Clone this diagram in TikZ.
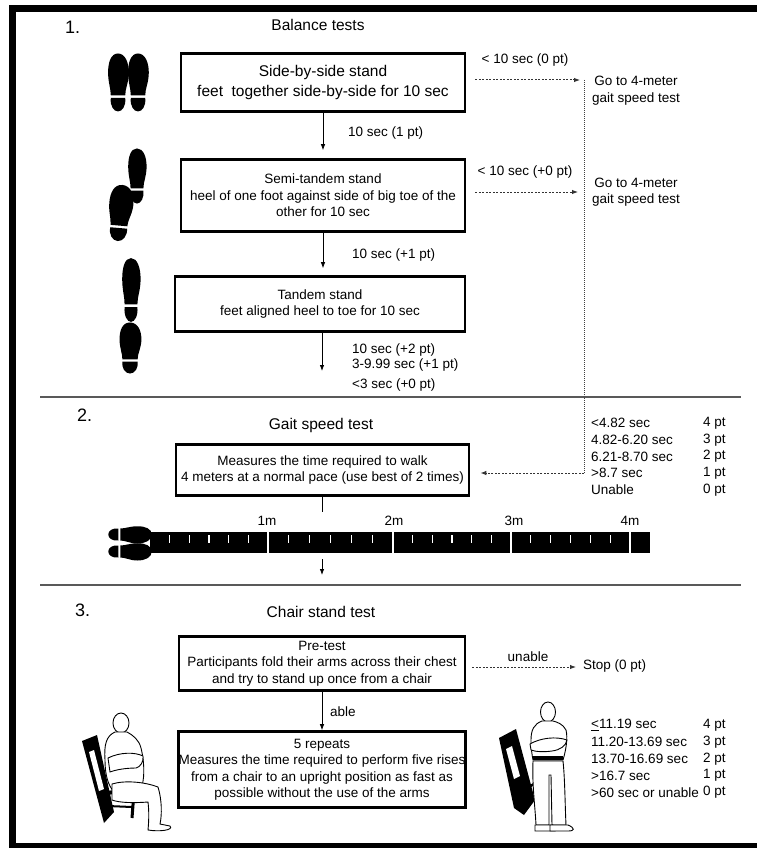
\documentclass[tikz,border=0pt]{standalone}
\usepackage{fontspec}
\setmainfont{Liberation Sans}
\usepackage{tikz}
\usetikzlibrary{arrows.meta}

\tikzset{
  sole/.pic={
    \fill (0,-29) .. controls (8,-29) and (12,-20) .. (12,-10) .. controls (12,0) and (8,6) .. (8,13) -- (-8,13) .. controls (-8,6) and (-11,0) .. (-11,-10) .. controls (-11,-20) and (-8,-29) .. (0,-29) -- cycle;
    \fill (-8,15.5) -- (8,15.5) .. controls (9,23) and (5,29) .. (0,29) .. controls (-5,29) and (-9,23) .. (-8,15.5) -- cycle;
  }
}

\begin{document}
\begin{tikzpicture}[x=1pt,y=-1pt,
    txt/.style={inner sep=0pt, font=\fontsize{13.5}{16.5}\selectfont},
    big/.style={inner sep=0pt, font=\fontsize{15.5}{20}\selectfont},
    num/.style={inner sep=0pt, font=\fontsize{18}{20}\selectfont},
    testbox/.style={draw, line width=2.6pt, align=center, inner sep=0pt, font=\fontsize{13.5}{16.5}\selectfont},
    flow/.style={line width=0.8pt, -{Latex[length=6pt,width=4.5pt]}},
    skip/.style={line width=1pt, gray!40!black, dash pattern=on 2pt off 1.5pt, -{Latex[length=6pt,width=4.5pt]}, shorten <=9pt},
    rule/.style={line width=1.6pt, gray!70!black}]

\useasboundingbox (0,0) rectangle (756,848);
\fill[white] (0,0) rectangle (756,848);
\draw[line width=7pt] (770,9) -- (12.5,9) -- (12.5,846) -- (770,846);

% section separators
\draw[rule] (40,397) -- (741,397);
\draw[rule] (40,585) -- (741,585);

% 1. balance tests
\node[num, anchor=west] (n1) at (65,27) {1.};
\node[big] (t1) at (318,25) {Balance tests};

\node[testbox, font=\fontsize{15.5}{20}\selectfont, minimum width=284, minimum height=58] (side) at (323,82.5)
  {Side-by-side stand\\feet\ \ together side-by-side for 10 sec};
\node[testbox, minimum width=284, minimum height=72] (semi) at (323,195.5)
  {Semi-tandem stand\\heel of one foot against side of big toe of the\\other for 10 sec};
\node[testbox, minimum width=290, minimum height=55] (tandem) at (320,304)
  {Tandem stand\\feet aligned heel to toe for 10 sec};

\draw[flow, shorten >=8pt] (side.south) -- (semi.north);
\draw[flow, shorten >=7pt] (semi.south) -- (semi.south |- tandem.north);
\coordinate (tend) at (322,371);
\draw[flow] (tandem.south -| tend) -- (tend);

\node[txt, anchor=west] (pass1) at (348,133) {10 sec (1 pt)};
\node[txt, anchor=west] (pass2) at (352,255) {10 sec (+1 pt)};
\node[txt, anchor=west] (sc1) at (352,350) {10 sec (+2 pt)};
\node[txt, anchor=west] (sc2) at (352,365) {3-9.99 sec (+1 pt)};
\node[txt, anchor=west] (sc3) at (352,385) {<3 sec (+0 pt)};

% going straight to the gait test
\coordinate (v1) at (584,80);
\coordinate (v2) at (584,473);
\coordinate (s1) at (580,80);
\coordinate (s2) at (578,192);
\draw[line width=1pt, gray!50!black, dash pattern=on 1pt off 1pt] (v1) -- (v2);
\draw[skip] (side.east |- s1) -- (s1);
\draw[skip] (semi.east |- s2) -- (s2);
\node[txt] (fail1) at (525,60) {< 10 sec (0 pt)};
\node[txt] (fail2) at (525,172) {< 10 sec (+0 pt)};
\node[txt, align=center] (go1) at (636,90.5) {Go to 4-meter\\gait speed test};
\node[txt, align=center] (go2) at (636,192) {Go to 4-meter\\gait speed test};

% footprints
\pic[xscale=0.9] at (118,82.5) {sole};
\pic[xscale=0.9] at (138,82.5) {sole};
\pic[xscale=0.8, yscale=0.95] at (137,176) {sole};
\pic[rotate=-5, xscale=1.05, yscale=0.97] at (120,213) {sole};
\pic[xscale=0.8, yscale=1.1] at (131,290) {sole};
\pic[xscale=0.95, yscale=0.88] at (130,348) {sole};

% 2. gait speed test
\node[num, anchor=west] (n2) at (77,415) {2.};
\node[big] (t2) at (321,425) {Gait speed test};
\node[testbox, minimum width=293, minimum height=51] (gait) at (322.5,470)
  {Measures the time required to walk\\4 meters at a normal pace (use best of 2 times)};
\draw[skip, shorten <=0pt, shorten >=10pt] (v2) -- (gait.east |- v2);

\foreach \t/\p [count=\i] in {<4.82 sec/4 pt, 4.82-6.20 sec/3 pt, 6.21-8.70 sec/2 pt, >8.7 sec/1 pt, Unable/0 pt}{
  \node[txt, anchor=west] (gs\i) at (591,406.25+16.75*\i) {\t};
  \node[txt, anchor=west] (gp\i) at (703,406.25+16.75*\i) {\p};
}

% walking course
\coordinate (r0) at (322,512);
\coordinate (r1) at (322,559);
\coordinate (r2) at (322,575);
\draw[line width=0.8pt] (gait.south) -- (gait.south |- r0);
\draw[flow] (r1) -- (r2);
\fill (150,532) rectangle (650,553);
\foreach \m in {268,393,511,630}
  \draw[white, line width=2pt] (\m,531) -- (\m,554);
\foreach \a/\b in {150/268,268/393,393/511,511/630}
  \foreach \k in {1,...,5}
    \draw[white, line width=1.3pt] ({\a+(\b-\a)*\k/6},535) -- ++(0,8);
\foreach \m/\l [count=\i] in {267/1m,394/2m,514/3m,630/4m}
  \node[txt] (mark\i) at (\m,521) {\l};
\pic[rotate=-90, scale=0.75] at (130,534.5) {sole};
\pic[rotate=-90, scale=0.75] at (130,551.5) {sole};

% 3. chair stand test
\node[num, anchor=west] (n3) at (75,610) {3.};
\node[big] (t3) at (321,612) {Chair stand test};
\node[testbox, minimum width=286, minimum height=54] (pre) at (322,663.5)
  {Pre-test\\Participants fold their arms across their chest\\and try to stand up once from a chair};
\node[testbox, minimum width=286, minimum height=76] (rep) at (322,769.5)
  {5 repeats\\Measures the time required to perform five rises\\from a chair to an upright position as fast as\\possible without the use of the arms};
\draw[flow] (pre.south) -- (rep.north);
\node[txt, anchor=west] (able) at (330,712) {able};

\coordinate (s3) at (576,667);
\draw[skip, shorten <=6pt] (pre.east |- s3) -- (s3);
\node[txt] (unable) at (528,657) {unable};
\node[txt, anchor=west] (stop) at (583,666) {Stop (0 pt)};

\foreach \t/\p [count=\i] in {\underline{<}11.19 sec/4 pt, 11.20-13.69 sec/3 pt, 13.70-16.69 sec/2 pt, >16.7 sec/1 pt, >60 sec or unable/0 pt}{
  \node[txt, anchor=west] (cs\i) at (591,708.5+16.75*\i) {\t};
  \node[txt, anchor=west] (cp\i) at (703,708.5+16.75*\i) {\p};
}

% seated person
\fill (82,741) -- (97,735) -- (114,812) -- (104,823) -- cycle;
\fill[white] (89,752) -- (94,750) -- (104,789) -- (99,791) -- cycle;
\draw[line width=4pt] (102,793) -- (136,791);
\draw[line width=3pt] (134,792) -- (132,818);
\draw[line width=2pt] (108,806) -- (132,807);
\begin{scope}[line width=0.9pt]
  \draw[fill=white] (121,723) ellipse (8 and 10);
  \draw[fill=white] (115,732) .. controls (106,736) and (104,745) .. (105,760) .. controls (105,775) and (108,785) .. (114,792) -- (142,786) .. controls (145,775) and (144,760) .. (141,748) .. controls (139,740) and (133,735) .. (127,732) -- cycle;
  \draw[fill=white] (108,758) .. controls (120,752) and (135,752) .. (143,756) .. controls (144,762) and (140,767) .. (136,768) .. controls (125,768) and (115,770) .. (110,772) -- cycle;
  \draw[fill=white] (112,784) .. controls (125,780) and (145,782) .. (158,787) .. controls (162,800) and (162,815) .. (160,824) -- (170,826) .. controls (174,830) and (160,832) .. (148,830) .. controls (149,820) and (149,810) .. (148,802) .. controls (135,803) and (120,803) .. (112,800) -- cycle;
\end{scope}

% standing person with chair
\fill (499,738) -- (516,729) -- (535,800) -- (524,815) -- (514,808) -- cycle;
\fill[white] (506,749) -- (512,746) -- (520,776) -- (514,779) -- cycle;
\draw[line width=2.5pt] (515,795) -- (534,784);
\begin{scope}[line width=0.9pt]
  \draw[fill=white] (548,712) ellipse (7.5 and 10);
  \draw[fill=white] (542,721) .. controls (534,724) and (531,730) .. (531,740) .. controls (531,748) and (532,755) .. (533,760) -- (563,760) .. controls (566,750) and (568,738) .. (566,730) .. controls (563,724) and (557,722) .. (553,721) -- cycle;
  \draw[fill=white] (530,744) .. controls (540,738) and (556,736) .. (567,740) .. controls (566,746) and (560,750) .. (552,751) .. controls (545,752) and (536,752) .. (531,750) -- cycle;
  \draw[fill=white] (533,761) .. controls (532,785) and (535,805) .. (536,825) -- (549,825) -- (549,775) -- (551,775) -- (552,825) -- (566,825) .. controls (565,805) and (565,780) .. (563,761) -- cycle;
  \draw[fill=white] (535,825) -- (553,825) -- (555,831) -- (535,831) -- cycle;
  \draw[fill=white] (550,825) -- (568,825) .. controls (575,828) and (575,831) .. (568,831) -- (550,831) -- cycle;
\end{scope}
\draw[line width=4pt] (533,758) -- (563,758);

\end{tikzpicture}
\end{document}
